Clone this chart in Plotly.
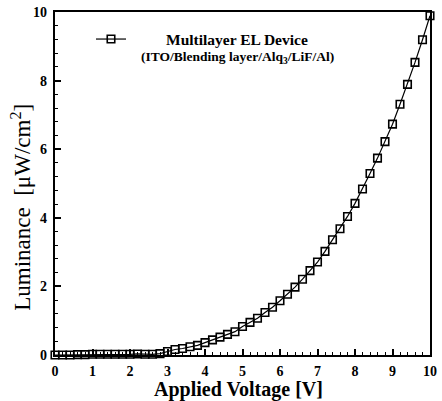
import plotly.graph_objects as go

voltage = [round(0.2 * i, 1) for i in range(51)]
luminance = [0.0, 0.0, 0.0, 0.01, 0.01, 0.02, 0.02, 0.02, 0.02, 0.02, 0.02, 0.03, 0.02, 0.02,
             0.04, 0.10, 0.16, 0.19, 0.24, 0.28, 0.36, 0.44, 0.52, 0.60, 0.68,
             0.83, 0.95, 1.07, 1.24, 1.39, 1.58, 1.77, 1.98, 2.21, 2.46,
             2.71, 3.02, 3.36, 3.68, 4.04, 4.42, 4.84, 5.29, 5.74, 6.22,
             6.73, 7.31, 7.89, 8.53, 9.19, 9.89]
x_ticks = list(range(0, 11))
y_ticks = [0, 2, 4, 6, 8, 10]

FONT = "Liberation Serif"

fig = go.Figure()
fig.add_trace(go.Scatter(
    x=voltage, y=luminance, mode="lines+markers", name=" ",
    line=dict(color="black", width=1.2),
    marker=dict(symbol="square-open", size=7.5, color="black", line=dict(width=1.6, color="black")),
    cliponaxis=False,
))

axis_common = dict(
    showline=True, linecolor="black", linewidth=2.2, mirror=True,
    ticks="inside", ticklen=6, tickwidth=1.5, tickcolor="black",
    showgrid=False, zeroline=False,
    tickfont=dict(family=FONT, size=14, color="black", weight="bold"),
)

fig.update_xaxes(range=[0, 10], tickvals=x_ticks, ticktext=["<b>%d</b>" % v for v in x_ticks],
                 ticklabelstandoff=2,
                 minor=dict(dtick=0.2, ticks="inside", ticklen=3, tickwidth=1, tickcolor="black"),
                 **axis_common)
fig.update_yaxes(range=[0, 10], tickvals=y_ticks, ticktext=["<b>%d</b>" % v for v in y_ticks],
                 ticklabelstandoff=3,
                 minor=dict(dtick=0.4, ticks="inside", ticklen=3, tickwidth=1, tickcolor="black"),
                 **axis_common)

fig.add_annotation(text="<b>Applied Voltage [V]</b>", xref="paper", yref="paper",
                   x=0.49, y=-0.062, xanchor="center", yanchor="top", showarrow=False,
                   font=dict(family=FONT, size=20, color="black", weight="bold"))
fig.add_annotation(text="Luminance  [μW/cm<sup>2</sup>]", xref="paper", yref="paper",
                   x=-0.09, y=0.43, xanchor="center", yanchor="middle", textangle=-90,
                   showarrow=False,
                   font=dict(family=FONT, size=23, color="black"))
fig.add_annotation(text="<b>Multilayer EL Device</b>", xref="paper", yref="paper",
                   x=0.486, y=0.92, xanchor="center", yanchor="middle", showarrow=False,
                   font=dict(family=FONT, size=15.5, color="black", weight="bold"))
fig.add_annotation(text="<b>(ITO/Blending layer/Alq<sub>3</sub>/LiF/Al)</b>", xref="paper", yref="paper",
                   x=0.486, y=0.866, xanchor="center", yanchor="middle", showarrow=False,
                   font=dict(family=FONT, size=13.5, color="black", weight="bold"))

fig.update_layout(
    width=442, height=401,
    margin=dict(l=55, r=5, t=12, b=46),
    paper_bgcolor="white", plot_bgcolor="white",
    showlegend=True,
    legend=dict(x=0.096, y=0.921, xanchor="left", yanchor="middle",
                bgcolor="rgba(0,0,0,0)", font=dict(family=FONT, size=13)),
)

fig.write_html("out.html", config={"displayModeBar": False},
               post_script="document.body.style.margin='0';document.body.style.overflow='hidden';")
